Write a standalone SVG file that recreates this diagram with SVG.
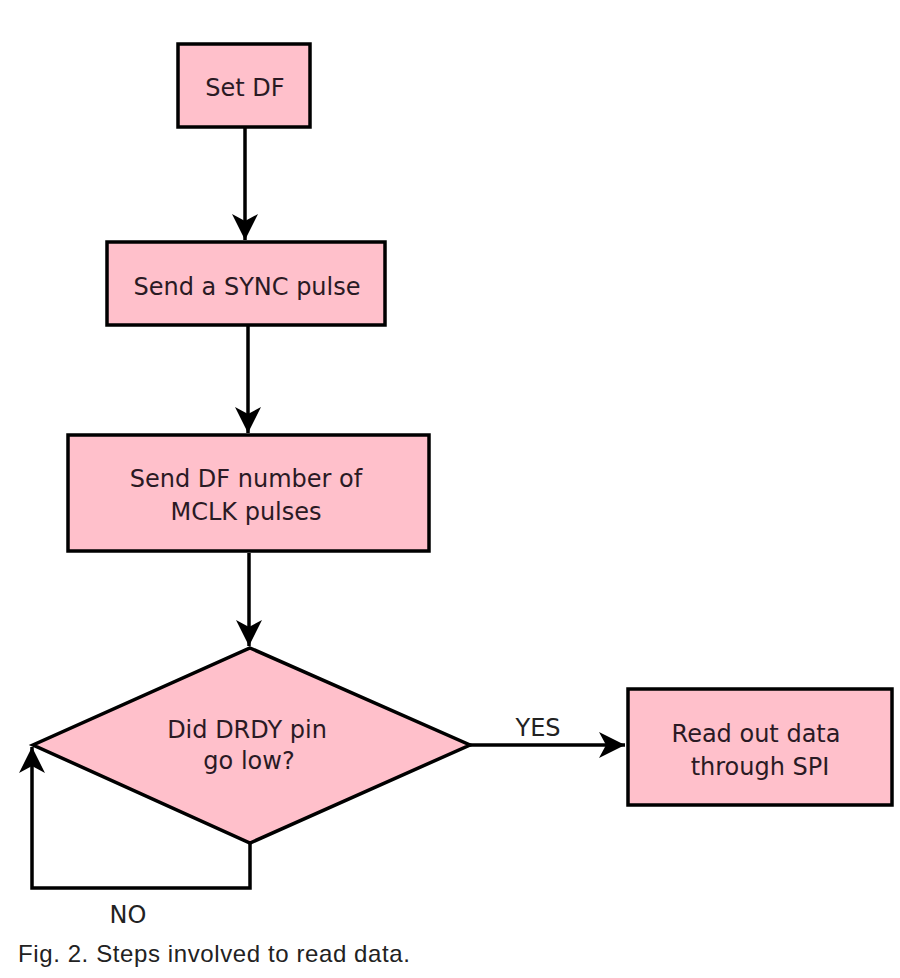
<svg xmlns="http://www.w3.org/2000/svg" width="900" height="978" viewBox="0 0 900 978">
<style>
.box{fill:#ffc0cb;stroke:#000;stroke-width:3.5}
.t{font-family:"DejaVu Sans",Verdana,sans-serif;font-size:24px;fill:#2a1a24;text-anchor:middle}
.lbl{font-family:"DejaVu Sans",Verdana,sans-serif;font-size:24px;fill:#222;text-anchor:middle}
.cap{font-family:"Liberation Sans",Arial,sans-serif;font-size:24px;fill:#222;letter-spacing:0.6px}
.c{fill:none;stroke:#000;stroke-width:3.5}
</style>
<defs>
<marker id="ah" markerUnits="userSpaceOnUse" markerWidth="28" markerHeight="28" refX="26" refY="13" orient="auto" viewBox="0 0 28 28">
<path d="M0,0 L26,13 L0,26 L7,13 z" fill="#000"/>
</marker>
</defs>
<rect width="900" height="978" fill="#fff"/>
<g id="connectors">
<path class="c" d="M245,128 V240" marker-end="url(#ah)"/>
<path class="c" d="M248,326 V433" marker-end="url(#ah)"/>
<path class="c" d="M249,553 V646" marker-end="url(#ah)"/>
<path class="c" d="M470,745 H625" marker-end="url(#ah)"/>
<path class="c" d="M250,843 V888 H32 V747" marker-end="url(#ah)"/>
<text class="lbl" x="538" y="736">YES</text>
<text class="lbl" x="128" y="923">NO</text>
</g>
<g id="n1">
<rect class="box" x="178" y="44" width="132" height="83"/>
<text class="t" x="245" y="96">Set DF</text>
</g>
<g id="n2">
<rect class="box" x="107" y="242" width="278" height="83"/>
<text class="t" x="247" y="295">Send a SYNC pulse</text>
</g>
<g id="n3">
<rect class="box" x="68" y="435" width="361" height="116"/>
<text class="t" x="246" y="487">Send DF number of</text>
<text class="t" x="246" y="520">MCLK pulses</text>
</g>
<g id="n4">
<polygon class="box" points="250,648 470,745 250,843 33,745"/>
<text class="t" x="247" y="738">Did DRDY pin</text>
<text class="t" x="249" y="769">go low?</text>
</g>
<g id="n5">
<rect class="box" x="628" y="689" width="264" height="116"/>
<text class="t" x="756" y="742">Read out data</text>
<text class="t" x="760" y="775">through SPI</text>
</g>
<text class="cap" x="18" y="962">Fig. 2. Steps involved to read data.</text>
</svg>
